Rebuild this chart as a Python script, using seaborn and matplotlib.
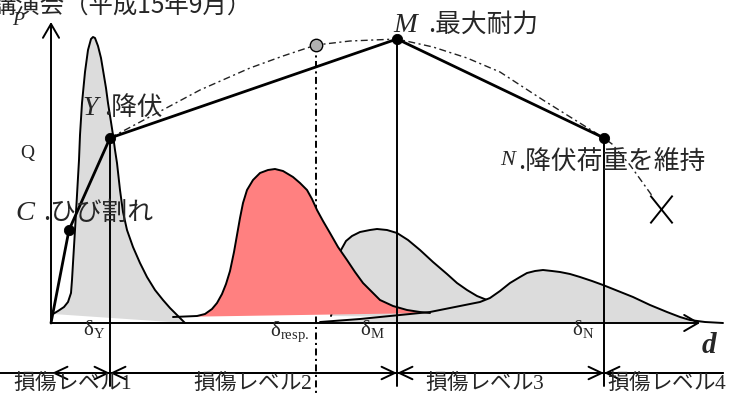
import matplotlib
matplotlib.use("Agg")
import matplotlib.pyplot as plt
import seaborn as sns
from matplotlib.path import Path

# Skeleton curve of the member: origin, C (cracking), Y (yield), M (max), N (yield load kept)
skel_d = [0, 18, 59, 346, 553]
skel_p = [0, 93, 185, 284, 185]

# Peak-response trend (dash-dot) from Y through M and N down to failure
trend_d = [59, 106, 149, 199, 232, 265, 299, 346, 382, 416, 449, 492, 524, 553, 561, 579, 602]
trend_p = [185, 210, 233, 255, 267, 278, 282, 284, 276, 265, 251, 223, 203, 185, 179, 158, 126]
resp_d, resp_p = 265, 278      # response point on the trend
fail_d, fail_p = 610, 114      # failure (X)

# Displacement distributions (schematic densities)
distY_d = [2, 7, 13, 17, 20, 21, 22, 24, 26, 28, 29, 31, 34, 37, 40, 42, 44, 47, 50, 52,
           55, 57, 60, 62, 64, 66, 69, 72, 76, 82, 89, 96, 104, 112, 119, 126, 134]
distY_p = [9, 12, 16, 21, 30, 43, 60, 93, 128, 163, 188, 220, 251, 273, 284, 286, 285, 277, 265, 253,
           235, 220, 201, 188, 173, 160, 133, 111, 93, 76, 60, 46, 33, 23, 15, 8, 0]

distR_d = [122, 146, 154, 161, 166, 171, 175, 179, 183, 186, 189, 192, 196, 202, 209, 217, 224, 232,
           242, 249, 256, 261, 266, 272, 279, 287, 296, 304, 312, 321, 329, 342, 356, 369, 379]
distR_p = [6, 7, 9, 14, 20, 29, 39, 52, 71, 88, 105, 120, 133, 143, 150, 153, 154, 152,
           146, 140, 133, 124, 113, 102, 90, 76, 63, 51, 40, 31, 23, 17, 13, 11, 10]

distM_d = [280, 284, 287, 290, 295, 301, 309, 319, 326, 336, 346, 357, 369, 382, 396, 406, 416, 426,
           436, 449, 469, 499, 539]
distM_p = [7, 23, 53, 73, 82, 87, 91, 93, 94, 93, 90, 83, 73, 61, 49, 40, 33, 27,
           23, 18, 12, 7, 4]

distN_d = [269, 309, 349, 379, 409, 429, 439, 449, 459, 469, 476, 484, 492, 501, 509, 519, 529,
           541, 552, 567, 582, 599, 616, 629, 639, 654, 672]
distN_p = [1, 4, 8, 11, 17, 21, 25, 32, 40, 46, 50, 52, 53, 52, 51, 49, 46,
           42, 38, 32, 26, 18, 11, 6, 3, 1, 0]

# Damage levels along the displacement axis
level_edges = [1, 59, 346, 553, 672]
level_labels = ["損傷レベル$\\mathrm{1}$", "損傷レベル$\\mathrm{2}$",
                "損傷レベル$\\mathrm{3}$", "損傷レベル$\\mathrm{4}$"]
level_x = [-38, 142, 374, 556]

delta_labels = [r"$\mathrm{δ}_{\mathrm{Y}}$", r"$\mathrm{δ}_{\mathrm{resp.}}$",
                r"$\mathrm{δ}_{\mathrm{M}}$", r"$\mathrm{δ}_{\mathrm{N}}$"]
delta_x = [43, 239, 321, 532]

GRAY = "#dcdcdc"
RED = "#ff8080"
JP = ["Noto Sans CJK JP", "DejaVu Sans"]
SERIF = ["Liberation Serif", "DejaVu Serif"]

sns.set_theme(style="white")
plt.rcParams["font.family"] = JP
plt.rcParams["mathtext.fontset"] = "custom"
plt.rcParams["mathtext.rm"] = "Liberation Serif"
plt.rcParams["mathtext.it"] = "Liberation Serif:italic"
plt.rcParams["lines.scale_dashes"] = False

fig = plt.figure(figsize=(7.35, 3.96), dpi=100)
ax = fig.add_axes([0, 0, 1, 1])
ax.set_xlim(-51, 684)
ax.set_ylim(-73, 323)
ax.set_axis_off()

# --- distributions ---
ax.fill(distY_d, distY_p, color=GRAY, lw=0, zorder=1)
sns.lineplot(x=distY_d, y=distY_p, ax=ax, color="black", lw=1.4, sort=False, estimator=None, zorder=1.1)

# response line from the trend down through the axis
ax.plot([resp_d, resp_d], [resp_p, -73], color="black", lw=1.4,
        ls=(0, (5, 2.5, 1.5, 2.5)), zorder=1.5)

ax.fill(distM_d, distM_p, color=GRAY, lw=0, zorder=2)
sns.lineplot(x=distM_d, y=distM_p, ax=ax, color="black", lw=1.4, sort=False, estimator=None, zorder=2.05)
ax.fill(distN_d, distN_p, color=GRAY, lw=0, zorder=2.1)
ax.fill(distR_d, distR_p, color=RED, lw=0, zorder=2.2)
sns.lineplot(x=distR_d, y=distR_p, ax=ax, color="black", lw=1.4, sort=False, estimator=None, zorder=2.25)
sns.lineplot(x=distN_d, y=distN_p, ax=ax, color="black", lw=1.4, sort=False, estimator=None, zorder=2.3)

# --- axes with arrows ---
arrow_kw = dict(arrowstyle="->,head_length=1.0,head_width=0.58", lw=1.4, color="black",
                shrinkA=0, shrinkB=0, mutation_scale=10)
ax.annotate("", xy=(0, 301), xytext=(0, 0), arrowprops=arrow_kw, zorder=3)
ax.annotate("", xy=(649, 0), xytext=(0, 0), arrowprops=arrow_kw, zorder=3)

# --- vertical lines at Y, M, N ---
for i in (2, 3, 4):
    ax.plot([skel_d[i], skel_d[i]], [skel_p[i], -63], color="black", lw=1.4, zorder=3)

# --- trend and skeleton ---
ax.plot(trend_d, trend_p, color="#222222", lw=1.0, ls=(0, (5, 2.5, 1.5, 2.5)), zorder=3.2)
sns.lineplot(x=skel_d, y=skel_p, ax=ax, color="black", lw=2.0, sort=False, estimator=None, zorder=3.5)
sns.scatterplot(x=skel_d[1:], y=skel_p[1:], ax=ax, color="black", s=55, edgecolor="black", zorder=5)
sns.scatterplot(x=[resp_d], y=[resp_p], ax=ax, color="#b0b0b0", s=80, edgecolor="black",
                linewidth=1.0, zorder=5)
x_marker = Path([(-0.8, -1), (0.8, 1), (-0.8, 1), (0.8, -1)],
                [Path.MOVETO, Path.LINETO, Path.MOVETO, Path.LINETO])
ax.plot([fail_d], [fail_p], marker=x_marker, markersize=20, mfc="none", mec="black",
        mew=1.4, ls="none", zorder=5)

# --- damage level bar ---
ax.plot([-51, 672], [-50, -50], color="black", lw=1.4, zorder=3)
lvl_kw = dict(lw=1.4, color="black", shrinkA=0, shrinkB=0, mutation_scale=10)
for a, b in zip(level_edges[:3], level_edges[1:4]):
    ax.annotate("", xy=(b, -50), xytext=(a, -50),
                arrowprops=dict(arrowstyle="<->,head_length=0.95,head_width=0.45", **lvl_kw), zorder=3)
ax.annotate("", xy=(level_edges[3], -50), xytext=(level_edges[4], -50),
            arrowprops=dict(arrowstyle="->,head_length=0.95,head_width=0.45", **lvl_kw), zorder=3)
for x, s in zip(level_x, level_labels):
    ax.text(x, -65.5, s, fontsize=15.5, ha="left", va="baseline", family=JP, zorder=6)

for x, s in zip(delta_x, delta_labels):
    ax.text(x, -12.5, s, fontsize=15, ha="center", va="baseline", zorder=6)

# --- labels ---
ax.text(-60, 309.5, "講演会（平成15年9月）", fontsize=17.6, ha="left", va="baseline", family=JP, zorder=6)
ax.text(-39, 298, "P", fontsize=14, style="italic", family=SERIF, ha="left", va="baseline", zorder=6)
ax.text(-31, 165, "Q", fontsize=14, family=SERIF, ha="left", va="baseline", zorder=6)
ax.text(651, -30, "d", fontsize=21, style="italic", weight="bold", family=SERIF,
        ha="left", va="baseline", zorder=6)

ax.text(-36, 103, "C", fontsize=20.5, style="italic", family=SERIF, ha="left", va="baseline", zorder=6)
ax.text(-8, 103, ".ひび割れ", fontsize=18.5, family=JP, ha="left", va="baseline", zorder=6)
ax.text(31, 208, "Y", fontsize=20, style="italic", family=SERIF, ha="left", va="baseline", zorder=6)
ax.text(53, 208, ".降伏", fontsize=18.5, family=JP, ha="left", va="baseline", zorder=6)
ax.text(342, 291, "M", fontsize=20.5, style="italic", family=SERIF, ha="left", va="baseline", zorder=6)
ax.text(377, 291, ".最大耐力", fontsize=18.5, family=JP, ha="left", va="baseline", zorder=6)
ax.text(449, 158, "N", fontsize=16, style="italic", family=SERIF, ha="left", va="baseline", zorder=6)
ax.text(467, 154, ".降伏荷重を維持", fontsize=18.5, family=JP, ha="left", va="baseline", zorder=6)

fig.savefig("out.png", dpi=100)
